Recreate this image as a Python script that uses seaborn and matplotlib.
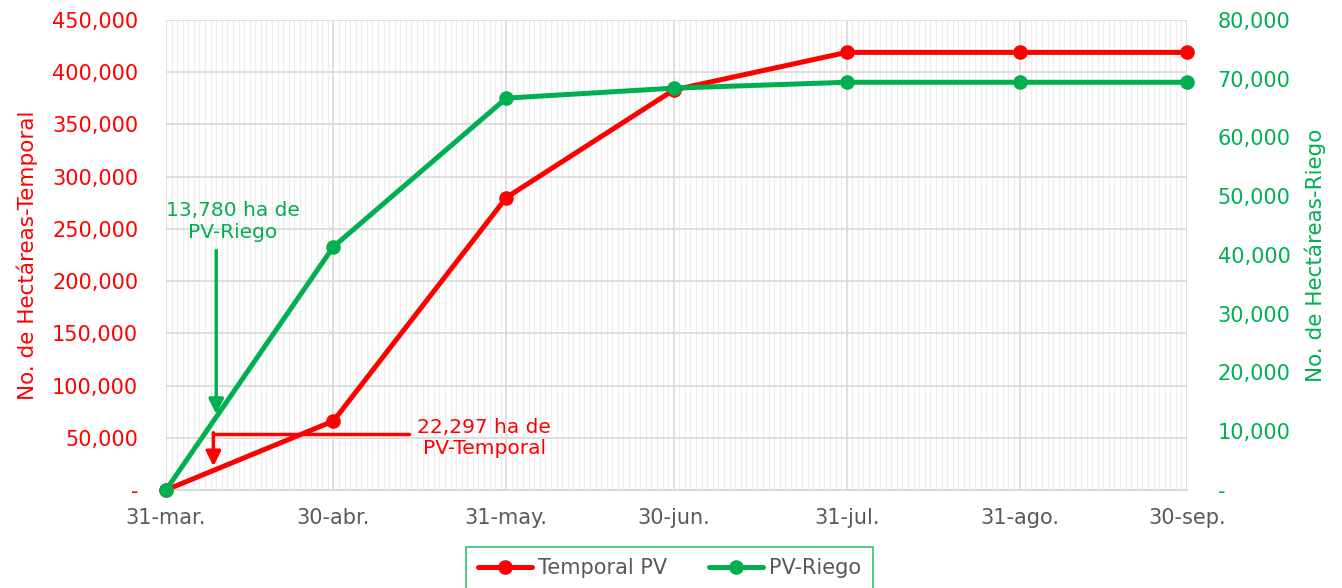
import matplotlib.pyplot as plt
import matplotlib.dates as mdates
import matplotlib.ticker as mticker
import numpy as np
import pandas as pd
import seaborn as sns

fechas = ['2023-03-31', '2023-04-30', '2023-05-31', '2023-06-30',
          '2023-07-31', '2023-08-31', '2023-09-30']
etiquetas = ['31-mar.', '30-abr.', '31-may.', '30-jun.', '31-jul.', '31-ago.', '30-sep.']
temporal = [0, 66000, 280000, 383000, 419000, 419000, 419000]
riego = [0, 41400, 66700, 68400, 69400, 69400, 69400]

rojo = '#FF0000'
verde = '#00B050'
gris = '#595959'

sns.set_style('white')
plt.rcParams['font.family'] = ['DejaVu Sans']

df = pd.DataFrame({'fecha': pd.to_datetime(fechas), 'temporal': temporal, 'riego': riego})

fig = plt.figure(figsize=(13.42, 5.88), dpi=100)
ax = fig.add_axes([0.1237, 0.1667, 0.7608, 0.7993])
ax2 = ax.twinx()

sns.lineplot(data=df, x='fecha', y='temporal', ax=ax, color=rojo, lw=3.6,
             marker='o', markersize=10.5, markeredgewidth=0, clip_on=False,
             label='Temporal PV', legend=False, zorder=5)
sns.lineplot(data=df, x='fecha', y='riego', ax=ax2, color=verde, lw=3.6,
             marker='o', markersize=10.5, markeredgewidth=0, clip_on=False,
             label='PV-Riego', legend=False, zorder=5)

ax.set_xlim(df.fecha.iloc[0], df.fecha.iloc[-1])
ax.set_ylim(0, 450000)
ax2.set_ylim(0, 80000)

fmt = mticker.FuncFormatter(lambda v, p: '-' if v == 0 else f'{v:,.0f}')
ax.yaxis.set_major_locator(mticker.MultipleLocator(50000))
ax2.yaxis.set_major_locator(mticker.MultipleLocator(10000))
ax.yaxis.set_major_formatter(fmt)
ax2.yaxis.set_major_formatter(fmt)

ax.set_xticks(df.fecha)
ax.set_xticklabels(etiquetas)
ax.xaxis.set_minor_locator(mdates.DayLocator())

ax.grid(True, which='major', color='#D9D9D9', lw=1.2)
ax.grid(True, which='minor', axis='x', color='#EEEEEE', lw=0.9)
ax.set_axisbelow(True)

ax.tick_params(axis='x', which='major', length=5, color='#D9D9D9', pad=8,
               labelsize=15, labelcolor=gris)
ax.tick_params(axis='x', which='minor', length=0)
ax.tick_params(axis='y', length=0, pad=20, labelsize=15, labelcolor=rojo)
ax2.tick_params(axis='y', length=0, pad=22, labelsize=15, labelcolor=verde)

for a in (ax, ax2):
    for s in ('top', 'left', 'right'):
        a.spines[s].set_visible(False)
    a.spines['bottom'].set_color('#D9D9D9')
    a.spines['bottom'].set_linewidth(1.2)

ax.set_xlabel('')
ax.set_ylabel('No. de Hectáreas-Temporal', color=rojo, fontsize=15.5, labelpad=10)
ax2.set_ylabel('No. de Hectáreas-Riego', color=verde, fontsize=15.5, labelpad=10)

# anotaciones
t0 = df.fecha.iloc[0]
ax.annotate('13,780 ha de\nPV-Riego', xy=(t0 + pd.Timedelta(days=12), 257000),
            ha='center', va='center', color=verde, fontsize=14.5, linespacing=1.15)
ax.annotate('', xy=(t0 + pd.Timedelta(days=9), 70000),
            xytext=(t0 + pd.Timedelta(days=9), 232000),
            arrowprops=dict(arrowstyle='-|>', color=verde, lw=2.5, mutation_scale=22))

ax.annotate('22,297 ha de\nPV-Temporal', xy=(t0 + pd.Timedelta(days=57), 50000),
            ha='center', va='center', color=rojo, fontsize=14.5, linespacing=1.15)
ax.plot([t0 + pd.Timedelta(days=43.5), t0 + pd.Timedelta(days=8.5)], [53600, 53600],
        color=rojo, lw=2.5, zorder=4)
ax.annotate('', xy=(t0 + pd.Timedelta(days=8.5), 20000),
            xytext=(t0 + pd.Timedelta(days=8.5), 54800),
            arrowprops=dict(arrowstyle='-|>', color=rojo, lw=2.5, mutation_scale=22,
                            shrinkA=0))

h1, l1 = ax.get_legend_handles_labels()
h2, l2 = ax2.get_legend_handles_labels()
h1 = [h for h, l in zip(h1, l1) if l == 'Temporal PV']
h2 = [h for h, l in zip(h2, l2) if l == 'PV-Riego']
leg = fig.legend(h1 + h2, ['Temporal PV', 'PV-Riego'], loc='upper center',
                 bbox_to_anchor=(0.499, 0.0697), ncol=2, fontsize=15, frameon=True,
                 fancybox=False, edgecolor=verde, handlelength=2.6, columnspacing=2.0,
                 borderpad=0.55, handletextpad=0.3, borderaxespad=0)
leg.get_frame().set_linewidth(1.2)
for t in leg.get_texts():
    t.set_color(gris)

fig.savefig('out.png', dpi=100)
